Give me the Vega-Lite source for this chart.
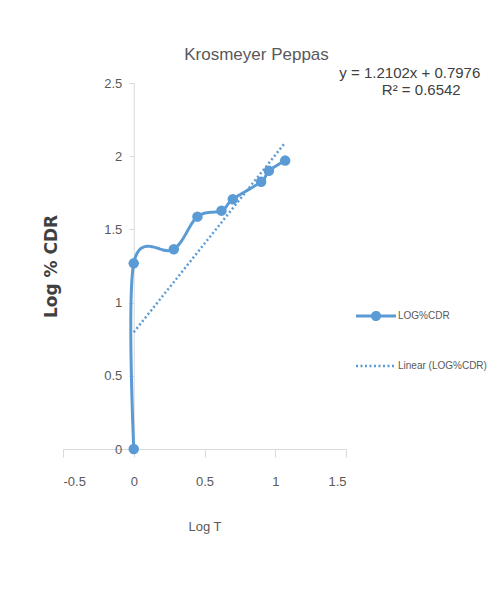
{
  "$schema": "https://vega.github.io/schema/vega-lite/v6.json",
  "width": 283,
  "height": 366,
  "autosize": {"type": "none"},
  "padding": {"left": 63, "top": 83, "right": 146, "bottom": 141},
  "background": "white",
  "config": {
    "view": {"stroke": null},
    "font": "Liberation Sans"
  },
  "title": {
    "text": "Krosmeyer Peppas",
    "anchor": "middle",
    "frame": "group",
    "dx": 52,
    "dy": 33,
    "baseline": "alphabetic",
    "offset": 22,
    "fontSize": 17,
    "fontWeight": "normal",
    "color": "#595959",
    "font": "Liberation Sans"
  },
  "datasets": {
    "main": [
      {"x": 0, "y": 0, "series": "LOG%CDR"},
      {"x": 0, "y": 1.268, "series": "LOG%CDR"},
      {"x": 0.283, "y": 1.364, "series": "LOG%CDR"},
      {"x": 0.45, "y": 1.587, "series": "LOG%CDR"},
      {"x": 0.62, "y": 1.628, "series": "LOG%CDR"},
      {"x": 0.70, "y": 1.706, "series": "LOG%CDR"},
      {"x": 0.90, "y": 1.826, "series": "LOG%CDR"},
      {"x": 0.955, "y": 1.90, "series": "LOG%CDR"},
      {"x": 1.07, "y": 1.97, "series": "LOG%CDR"}
    ],
    "trend": [
      {"x": 0, "y": 0.7976, "series": "Linear (LOG%CDR)"},
      {"x": 1.07, "y": 2.0925, "series": "Linear (LOG%CDR)"}
    ],
    "labels": [
      {"x": 1.951, "y": 2.534, "text": "y = 1.2102x + 0.7976"},
      {"x": 2.032, "y": 2.418, "text": "R² = 0.6542"}
    ]
  },
  "encoding": {
    "x": {
      "field": "x",
      "type": "quantitative",
      "scale": {"domain": [-0.5, 1.5], "nice": false, "zero": false},
      "axis": {
        "title": "Log T",
        "values": [-0.5, 0, 0.5, 1, 1.5],
        "labelExpr": "'' + datum.value",
        "grid": false,
        "domainColor": "#d9d9d9",
        "tickColor": "#d9d9d9",
        "tickSize": 8,
        "labelPadding": 18,
        "labelFontSize": 13,
        "labelColor": "#595959",
        "labelFont": "Liberation Sans",
        "titleFont": "Liberation Sans",
        "titleFontSize": 13,
        "titleFontWeight": "normal",
        "titleColor": "#595959",
        "titleBaseline": "alphabetic",
        "titleY": 81
      }
    },
    "y": {
      "field": "y",
      "type": "quantitative",
      "scale": {"domain": [0, 2.5], "nice": false, "zero": false},
      "axis": {
        "title": "Log % CDR",
        "values": [0, 0.5, 1, 1.5, 2, 2.5],
        "labelExpr": "'' + datum.value",
        "offset": -70.75,
        "grid": false,
        "domainColor": "#d9d9d9",
        "tickColor": "#d9d9d9",
        "tickSize": 5,
        "labelPadding": 7,
        "labelFontSize": 13,
        "labelColor": "#595959",
        "labelFont": "Liberation Sans",
        "titleFont": "DejaVu Sans",
        "titleFontSize": 17,
        "titleFontWeight": "bold",
        "titleColor": "#404040",
        "titleBaseline": "middle",
        "titleX": -82,
        "titleY": 183
      }
    }
  },
  "layer": [
    {
      "data": {"name": "trend"},
      "mark": {"type": "line", "color": "#5B9BD5", "strokeWidth": 2.5},
      "encoding": {
        "strokeDash": {
          "field": "series",
          "type": "nominal",
          "scale": {"domain": ["LOG%CDR", "Linear (LOG%CDR)"], "range": [[1, 0], [2, 2.5]]},
          "legend": {
            "title": null,
            "orient": "none",
            "legendX": 308,
            "legendY": 228,
            "padding": 0,
            "symbolType": "stroke",
            "symbolSize": 1600,
            "symbolStrokeWidth": 3,
            "symbolStrokeColor": "#5B9BD5",
            "labelFontSize": 10,
            "labelColor": "#595959",
            "labelFont": "Liberation Sans",
            "labelOffset": 17,
            "labelLimit": 200,
            "rowPadding": 35,
            "encode": {
              "symbols": {
                "update": {
                  "shape": {"signal": "datum.value === 'LOG%CDR' ? 'M-1,0H1M0.18,0A0.18,0.18,0,1,1,-0.18,0A0.18,0.18,0,1,1,0.18,0Z' : 'stroke'"},
                  "fill": {"signal": "datum.value === 'LOG%CDR' ? '#5B9BD5' : 'transparent'"},
                  "stroke": {"value": "#5B9BD5"},
                  "strokeWidth": {"signal": "datum.value === 'LOG%CDR' ? 3 : 2.5"}
                }
              }
            }
          }
        }
      }
    },
    {
      "data": {"name": "main"},
      "mark": {"type": "line", "interpolate": "cardinal", "color": "#5B9BD5", "strokeWidth": 3},
      "encoding": {
        "strokeDash": {"field": "series", "type": "nominal"},
        "order": {"field": "y", "type": "quantitative"}
      }
    },
    {
      "data": {"name": "main"},
      "mark": {"type": "point", "filled": true, "size": 110, "color": "#5B9BD5", "opacity": 1}
    },
    {
      "data": {"name": "labels"},
      "mark": {"type": "text", "align": "center", "baseline": "alphabetic", "fontSize": 15, "color": "#404040", "font": "Liberation Sans"},
      "encoding": {"text": {"field": "text", "type": "nominal"}}
    }
  ]
}
